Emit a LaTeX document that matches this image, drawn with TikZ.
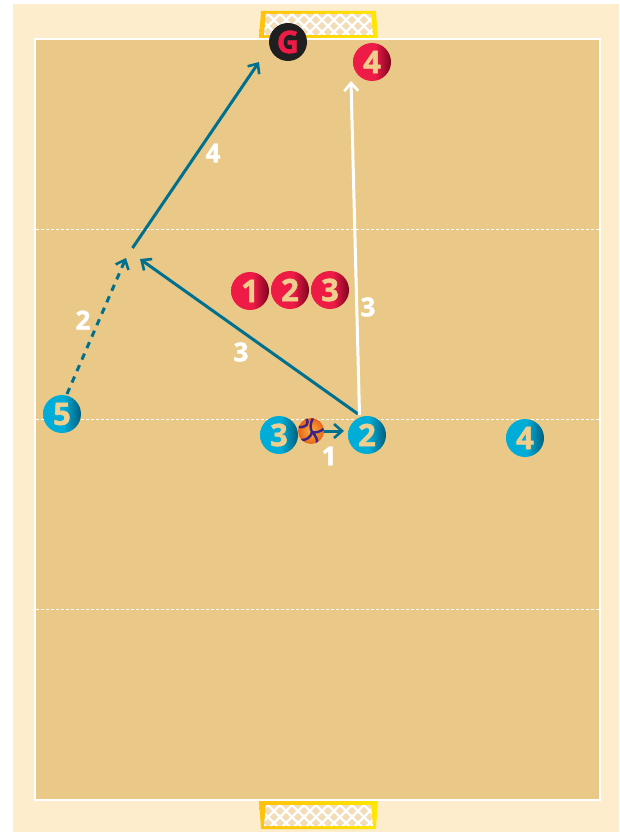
\documentclass[tikz,border=0pt]{standalone}
\usepackage{fontspec}
\setmainfont{Open Sans}[BoldFeatures={FakeBold=1.6}]
\usetikzlibrary{arrows.meta}
\definecolor{cream}{HTML}{FDEDCD}
\definecolor{court}{HTML}{EAC988}
\definecolor{tealc}{HTML}{00708F}
\definecolor{netc}{HTML}{F3DDB8}
\definecolor{tanc}{HTML}{F0CF8E}
\definecolor{blue0}{HTML}{00ADD8}
\definecolor{blue1}{HTML}{005F7C}
\definecolor{red0}{HTML}{ED1B45}
\definecolor{red1}{HTML}{7E0420}
\definecolor{yel0}{HTML}{FFC20E}
\definecolor{yel1}{HTML}{FFE600}
\definecolor{seam}{HTML}{3C2384}
\definecolor{ball0}{HTML}{FBB03B}
\definecolor{ball1}{HTML}{E8641B}
\pgfdeclarehorizontalshading{bluesh}{100bp}{color(0bp)=(blue0);color(52bp)=(blue0);color(75bp)=(blue1);color(100bp)=(blue1)}
\pgfdeclarehorizontalshading{redsh}{100bp}{color(0bp)=(red0);color(54bp)=(red0);color(75bp)=(red1);color(100bp)=(red1)}
\tikzset{
  player/.style={circle,minimum size=38pt,inner sep=0pt,text=tanc,font=\fontsize{31}{31}\selectfont\bfseries},
  blueplayer/.style={player,shading=bluesh},
  redplayer/.style={player,shading=redsh},
  keeper/.style={player,fill=black!88,text=red0},
  lab/.style={text=white,inner sep=0pt,font=\fontsize{26}{26}\selectfont\bfseries},
  pass/.style={draw=tealc,line width=3pt,-{Straight Barb[length=8pt,width=14pt,line width=2.6pt]}},
  run/.style={pass,dash pattern=on 6.5pt off 6pt},
  whitepass/.style={pass,draw=white},
  zone/.style={white,line width=1.6pt,dash pattern=on 3pt off 2pt},
  netmesh/.style={white,line width=2.2pt},
}
\newcommand{\goalnet}[4]{%
  \shade[left color=yel0,right color=yel1]
    (261,#1) -- (376,#1) -- (378,#2) -- (259,#2) -- cycle;
  \begin{scope}
    \clip (266,#3) -- (371,#3) -- (373,#4) -- (264,#4) -- cycle;
    \fill[netc] (255,#3) rectangle (385,#4);
    \foreach \k in {-4,...,14}{
      \draw[netmesh] ({250+\k*12},#3-6) -- ++(44,44);
      \draw[netmesh] ({250+\k*12},#3-6) -- ++(-44,44);
    }
  \end{scope}
}
\begin{document}
\begin{tikzpicture}[x=1pt,y=-1pt]
\useasboundingbox (0,0) rectangle (619,832);
\fill[white] (0,0) rectangle (619,832);
\fill[cream] (13,4) rectangle (619,832);
\goalnet{11}{40}{14}{35}
\goalnet{829}{799}{805}{826}
\fill[court] (35,39) rectangle (600,800);
\draw[white,line width=1.6pt] (35,39) rectangle (600,800);
\draw[zone] (36,229.5) -- (599,229.5);
\draw[zone] (36,419.5) -- (599,419.5);
\draw[zone] (36,609.5) -- (599,609.5);
% players
\node[keeper] (g) at (288,42) {G};
\node[redplayer] (r4) at (372,62) {4};
\node[redplayer] (r1) at (250,291) {1};
\node[redplayer] (r2) at (290,290) {2};
\node[redplayer] (r3) at (330,290) {3};
\node[blueplayer] (b5) at (62,414) {5};
\node[blueplayer] (b3) at (279,435) {3};
\node[blueplayer] (b2) at (367,435) {2};
\node[blueplayer] (b4) at (525,438) {4};
% free ends
\coordinate (c1) at (126,258);
\coordinate (c2) at (140,259);
\coordinate (c3) at (132.5,248);
\coordinate (c4) at (259,62);
\coordinate (c5) at (351,81);
\coordinate (s1) at (67,394);
\coordinate (s2) at (358,414);
\coordinate (s3) at (359.5,415);
\coordinate (s4) at (322,431);
\coordinate (e4) at (344,431);
% connectors
\draw[run] (s1) -- (c1);
\draw[pass] (s2) -- (c2);
\draw[pass] (c3) -- (c4);
\draw[whitepass] (s3) -- (c5);
\draw[pass] (s4) -- (e4);
% ball
\node[circle,minimum size=26pt,inner sep=0pt,inner color=ball0,outer color=ball1] (ball) at (311,431) {};
\begin{scope}
\clip (311,431) circle (13);
\draw[line width=2.4pt,draw=seam]
  (306,418) .. controls (310,424) and (306,428) .. (298,427)
  (313,418) .. controls (310,424) and (310,428) .. (312,432)
  (325,428) .. controls (320,432) and (316,433) .. (312,432)
  (312,432) .. controls (311,437) and (306,441) .. (300,440)
  (312,432) .. controls (316,436) and (318,440) .. (317,445);
\end{scope}
% labels
\node[lab] (l4) at (213,153) {4};
\node[lab] (l2) at (83,320) {2};
\node[lab] (l3a) at (241,352) {3};
\node[lab] (l3b) at (368,307) {3};
\node[lab] (l1) at (329,456) {1};
\end{tikzpicture}
\end{document}
